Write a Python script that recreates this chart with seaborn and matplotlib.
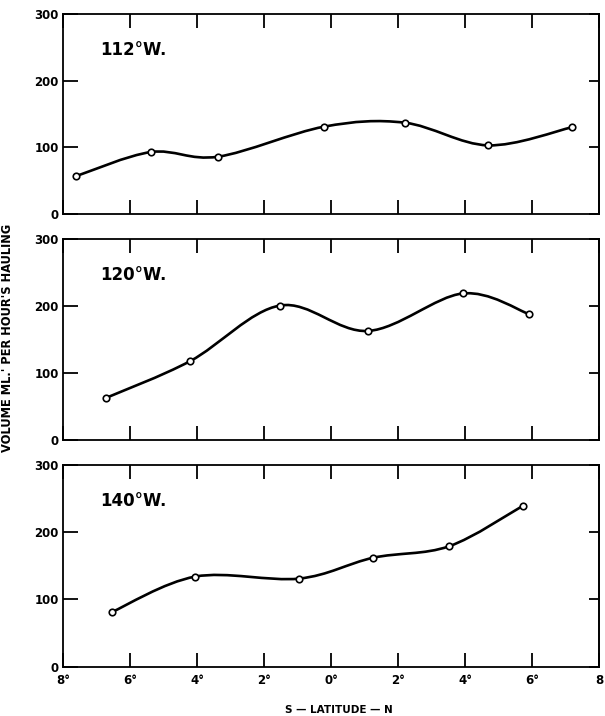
import matplotlib
matplotlib.use("Agg")
import matplotlib.pyplot as plt
from matplotlib.path import Path
from matplotlib.patches import PathPatch
import numpy as np
import pandas as pd
import seaborn as sns

# values (latitude: negative = S, positive = N)
lat_112 = [-7.6, -5.37, -3.37, -0.21, 2.2, 4.69, 7.18]
vol_112 = [57, 93, 86, 131, 137, 103, 130]
lat_120 = [-6.71, -4.2, -1.52, 1.11, 3.93, 5.92]
vol_120 = [63, 118, 201, 163, 219, 188]
lat_140 = [-6.55, -4.05, -0.95, 1.26, 3.52, 5.72]
vol_140 = [81, 134, 131, 162, 179, 239]

panel_names = ["112°W.", "120°W.", "140°W."]
x_ticks = [-8, -6, -4, -2, 0, 2, 4, 6, 8]
x_ticklabels = ["8°", "6°", "4°", "2°", "0°", "2°", "4°", "6°", "8"]
y_ticks = [0, 100, 200, 300]

sns.set_style("ticks")
plt.rcParams["font.family"] = ["DejaVu Sans"]
plt.rcParams["font.weight"] = "bold"
plt.rcParams["text.color"] = "black"
plt.rcParams["xtick.color"] = "black"
plt.rcParams["ytick.color"] = "black"
plt.rcParams["xtick.labelcolor"] = "black"
plt.rcParams["ytick.labelcolor"] = "black"


def smooth_path(xs, ys):
    # catmull-rom through the points, drawn as cubic bezier segments
    pts = np.column_stack([xs, ys]).astype(float)
    n = len(pts)
    verts = [pts[0]]
    codes = [Path.MOVETO]
    for i in range(n - 1):
        p0 = pts[max(i - 1, 0)]
        p1 = pts[i]
        p2 = pts[i + 1]
        p3 = pts[min(i + 2, n - 1)]
        verts += [p1 + (p2 - p0) / 6, p2 - (p3 - p1) / 6, p2]
        codes += [Path.CURVE4] * 3
    return Path(verts, codes)


fig = plt.figure(figsize=(6.05, 7.16), dpi=100)
boxes = [
    [0.1041, 0.7011, 0.886, 0.2793],
    [0.1041, 0.3855, 0.886, 0.2803],
    [0.1041, 0.0689, 0.886, 0.2817],
]
series = [(lat_112, vol_112), (lat_120, vol_120), (lat_140, vol_140)]

for i, (box, (lat, vol), name) in enumerate(zip(boxes, series, panel_names)):
    ax = fig.add_axes(box)
    df = pd.DataFrame({"lat": lat, "vol": vol})
    ax.add_patch(
        PathPatch(smooth_path(df["lat"], df["vol"]), facecolor="none",
                  edgecolor="black", lw=1.9, zorder=2)
    )
    sns.scatterplot(data=df, x="lat", y="vol", ax=ax, marker="o", s=22,
                    facecolor="white", edgecolor="black", linewidth=1.2,
                    zorder=3)
    ax.set_xlim(-8, 8)
    ax.set_ylim(0, 300)
    ax.set_xlabel("")
    ax.set_ylabel("")
    for sp in ax.spines.values():
        sp.set_visible(True)
        sp.set_linewidth(1.3)
        sp.set_color("black")
    ax.set_xticks(x_ticks)
    ax.set_yticks(y_ticks)
    ax.set_yticklabels([str(v) for v in y_ticks], fontsize=8.5, fontweight="bold")
    ax.tick_params(axis="x", direction="in", length=10, width=1.3,
                   top=True, bottom=True, pad=5)
    ax.tick_params(axis="y", direction="in", length=11, width=1.3,
                   left=True, right=False, pad=3)
    if i == 2:
        ax.set_xticklabels(x_ticklabels, fontsize=8.5, fontweight="bold")
    else:
        ax.set_xticklabels([])
    # short inward ticks on the right side
    ax2 = ax.secondary_yaxis("right")
    ax2.set_yticks(y_ticks)
    ax2.set_yticklabels([])
    ax2.tick_params(direction="in", length=7, width=1.3)
    ax2.spines["right"].set_linewidth(1.3)
    ax.text(0.069, 0.82, name, transform=ax.transAxes, fontsize=12,
            fontweight="bold", ha="left", va="center", color="black")

fig.text(0.013, 0.528, "VOLUME ML.' PER HOUR'S HAULING", rotation=90,
         ha="center", va="center", fontsize=8.3, fontweight="bold",
         color="black")
fig.text(0.5595, 0.009, "S — LATITUDE — N", ha="center", va="center",
         fontsize=7.5, fontweight="bold", color="black")

fig.savefig("out.png", dpi=100, facecolor="white")
